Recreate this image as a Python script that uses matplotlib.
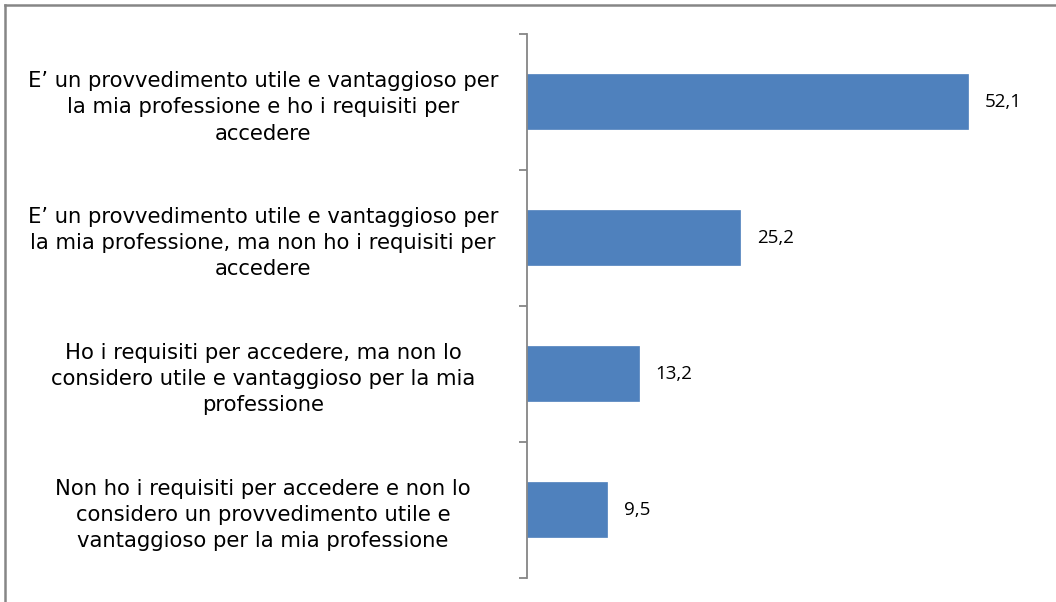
import matplotlib
matplotlib.use("Agg")
import matplotlib.pyplot as plt
from matplotlib.lines import Line2D

categories = [
    "E’ un provvedimento utile e vantaggioso per\nla mia professione e ho i requisiti per\naccedere",
    "E’ un provvedimento utile e vantaggioso per\nla mia professione, ma non ho i requisiti per\naccedere",
    "Ho i requisiti per accedere, ma non lo\nconsidero utile e vantaggioso per la mia\nprofessione",
    "Non ho i requisiti per accedere e non lo\nconsidero un provvedimento utile e\nvantaggioso per la mia professione",
]
values = [52.1, 25.2, 13.2, 9.5]
value_labels = ["52,1", "25,2", "13,2", "9,5"]

W, H = 1056, 602
fig = plt.figure(figsize=(W / 100, H / 100), dpi=100)
plt.rcParams['font.family'] = ['DejaVu Sans']
FS = 15.2
VFS = 13.5

left, right, top, bottom = 527, 1034.5, 34, 577.7
ax = fig.add_axes([left / W, 1 - bottom / H, (right - left) / W, (bottom - top) / H])

pos = list(range(len(values)))
ax.barh(pos, values, height=0.405, color="#4F81BD", edgecolor="#4F81BD", linewidth=0.5)
ax.set_ylim(len(values) - 0.5, -0.5)
ax.set_xlim(0, 60)

for p, v, lab in zip(pos, values, value_labels):
    ax.annotate(lab, (v, p), xytext=(12, 0), textcoords="offset points",
                va="center", ha="left", fontsize=VFS, color="black",
                family=["Open Sans", "DejaVu Sans"])

ax.set_yticks(pos)
ax.set_yticklabels(categories, ha="center", multialignment="center", fontsize=FS,
                   linespacing=1.4)
ax.tick_params(axis="y", which="major", length=0, pad=190)
ax.set_yticks([i - 0.5 for i in range(len(values) + 1)], minor=True)
ax.tick_params(axis="y", which="minor", length=6, width=1.3, color="#868686", direction="out")
ax.set_xticks([])
for s in ["top", "right", "bottom"]:
    ax.spines[s].set_visible(False)
ax.spines["left"].set_color("#868686")
ax.spines["left"].set_linewidth(1.3)

# outer frame: only top and left edges are visible in the reference
fig.lines.append(Line2D([5 / W, 1], [1 - 4.5 / H, 1 - 4.5 / H], transform=fig.transFigure,
                        color="#868686", linewidth=1.8))
fig.lines.append(Line2D([5 / W, 5 / W], [0, 1 - 4.5 / H], transform=fig.transFigure,
                        color="#868686", linewidth=1.8))

fig.savefig("out.png", dpi=100)
